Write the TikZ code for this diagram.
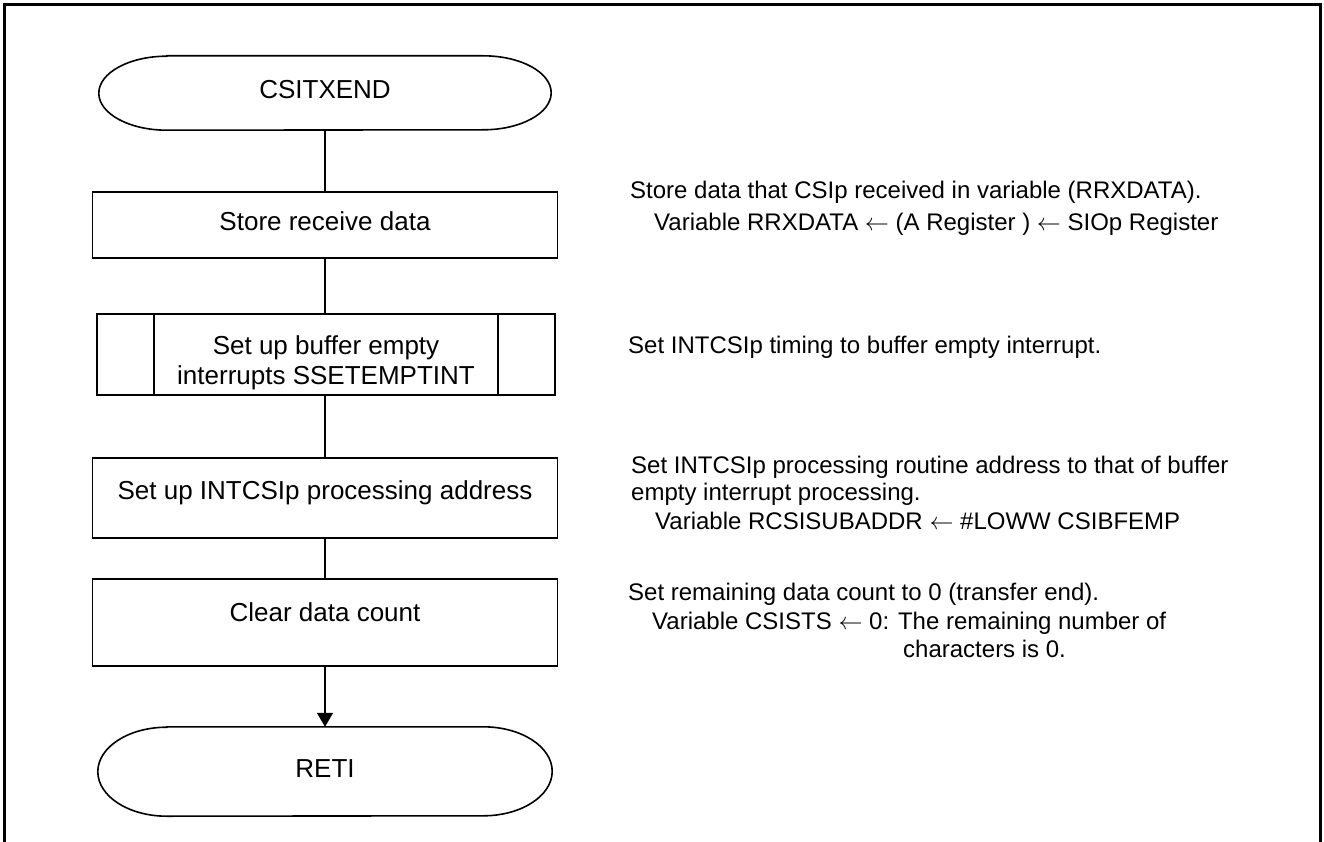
\documentclass[tikz,border=0pt]{standalone}
\usepackage{graphicx}
\usepackage{fontspec}
\setmainfont{Liberation Sans}
\usetikzlibrary{arrows.meta}
\newcommand{\larr}{\scalebox{2.4}{\fontsize{10}{12}\selectfont$\leftarrow$}}
\tikzset{
  flow/.style={draw, line width=1.6pt, rectangle, inner sep=0pt, minimum width=465pt,
    align=center, font=\fontsize{26}{30}\selectfont},
  term/.style={rectangle, inner sep=0pt, font=\fontsize{26}{30}\selectfont},
  note/.style={anchor=base west, inner sep=0pt, font=\fontsize{24}{28}\selectfont},
  link/.style={line width=1.6pt},
  frame/.style={line width=2.5pt},
}
\begin{document}
\begin{tikzpicture}[x=1pt,y=1pt]
\useasboundingbox (0,0) rectangle (1324,-842);
% outer frame (open at the bottom)
\draw[frame] (4.7,-842) -- (4.7,-4.5) -- (1320.5,-4.5) -- (1320.5,-842);

% start terminal
\node[term, minimum width=452pt, minimum height=74pt, text height=12pt, text depth=0pt] (start) at (325,-93) {CSITXEND};
\draw[link] ([xshift=68pt]start.north west) -- ([xshift=-68pt]start.north east)
  arc[start angle=90, end angle=-90, x radius=68pt, y radius=37pt]
  -- ([xshift=68pt]start.south west)
  arc[start angle=270, end angle=90, x radius=68pt, y radius=37pt] -- cycle;

% process boxes
\node[flow, minimum height=66pt, text height=12pt, text depth=0pt] (b1) at (325,-225) {Store receive data};
\node[flow, minimum width=458pt, minimum height=81pt, text height=59pt, text depth=0pt] (b2) at (326,-354.5) {Set up buffer empty\\interrupts SSETEMPTINT};
\draw[link] ([xshift=58pt]b2.north west) -- ([xshift=58pt]b2.south west);
\draw[link] ([xshift=-58pt]b2.north east) -- ([xshift=-58pt]b2.south east);
\node[flow, minimum height=80pt, text height=2pt, text depth=0pt] (b3) at (325,-498) {Set up INTCSIp processing address};
\node[flow, minimum height=87pt, text height=0pt, text depth=3pt] (b4) at (325,-622.5) {Clear data count};

% end terminal
\node[term, minimum width=454pt, minimum height=89pt, text height=11pt, text depth=0pt] (stop) at (325,-771.5) {RETI};
\draw[link] ([xshift=69pt]stop.north west) -- ([xshift=-69pt]stop.north east)
  arc[start angle=90, end angle=-90, x radius=69pt, y radius=44.5pt]
  -- ([xshift=69pt]stop.south west)
  arc[start angle=270, end angle=90, x radius=69pt, y radius=44.5pt] -- cycle;

% connectors
\draw[link] (start.south) -- (start.south |- b1.north);
\draw[link] (b1.south) -- (b1.south |- b2.north);
\draw[link] (b1.south |- b2.south) -- (b1.south |- b3.north);
\draw[link] (b3.south) -- (b4.north);
\draw[link, -{Triangle[length=14pt, width=16pt]}] (b4.south) -- (stop.north);

% annotations
\node[note] (n1a) at (630,-199) {Store data that CSIp received in variable (RRXDATA).};
\node[note] (n1b) at (654,-231) {Variable RRXDATA \larr{} (A Register ) \larr{} SIOp Register};
\node[note] (n2)  at (628,-353) {Set INTCSIp timing to buffer empty interrupt.};
\node[note] (n3a) at (631,-473) {Set INTCSIp processing routine address to that of buffer};
\node[note] (n3b) at (631,-500) {empty interrupt processing.};
\node[note] (n3c) at (655,-529) {Variable RCSISUBADDR \larr{} \#LOWW CSIBFEMP};
\node[note] (n4a) at (628,-600) {Set remaining data count to 0 (transfer end).};
\node[note] (n4b) at (652,-629) {Variable CSISTS \larr{} 0: The remaining number of};
\node[note] (n4c) at (903,-657) {characters is 0.};
\end{tikzpicture}
\end{document}
